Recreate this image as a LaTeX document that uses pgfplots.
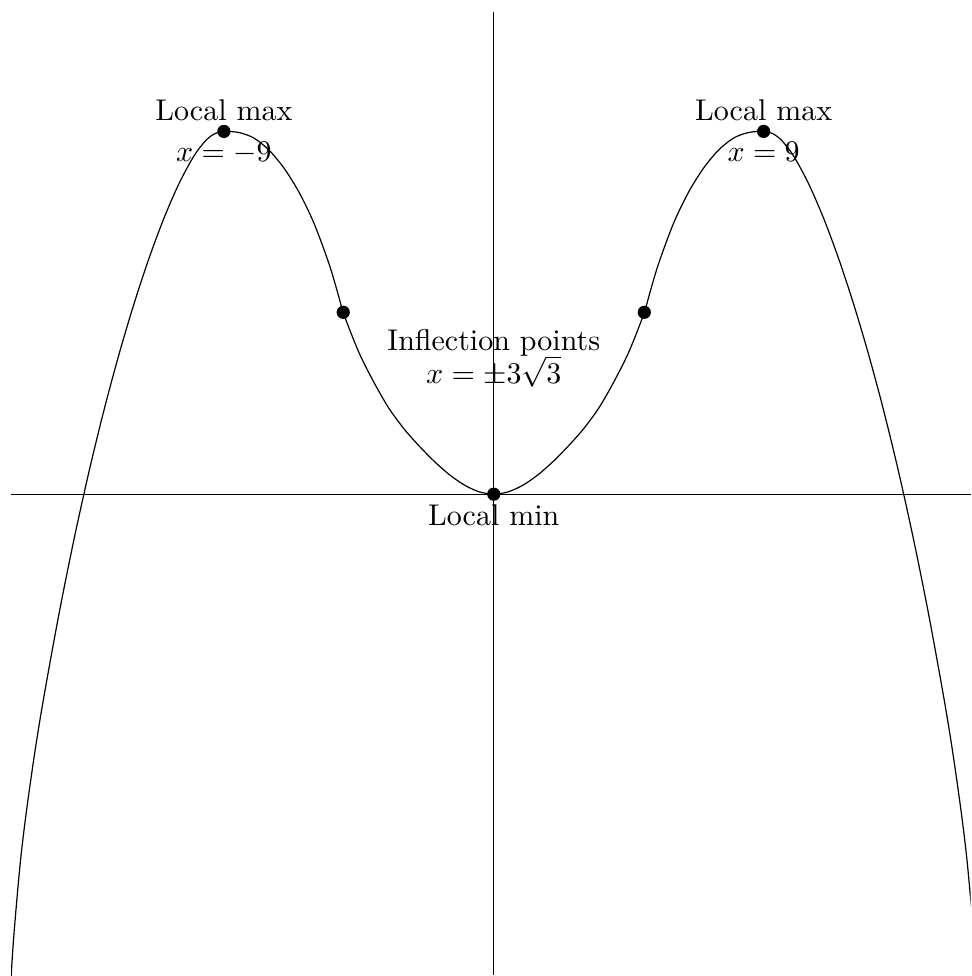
\documentclass[border=0pt]{standalone}
\usepackage{pgfplots}
\pgfplotsset{compat=1.18}
\begin{document}
\begin{tikzpicture}
\begin{axis}[
  scale only axis,
  width=320pt, height=321.3pt,
  xmin=-16.1, xmax=15.9,
  ymin=-48.15, ymax=48.25,
  axis lines=middle,
  axis line style={-, black, line width=0.4pt},
  ticks=none,
  clip=true,
]
\addplot[black, line width=0.4pt, smooth, tension=0.5] coordinates {
(-16.2,-54) (-16.1,-48.45) (-16.0,-43.95) (-15.8,-37.15) (-15.6,-32.05)
(-15.3,-25.7) (-15.0,-20.21) (-14.5,-11.98) (-14.0,-4.53) (-13.5,2.25)
(-13.0,8.40) (-12.5,13.98) (-12.0,19.03) (-11.5,23.58) (-11.0,27.61)
(-10.5,31.06) (-10.0,33.84) (-9.6,35.40) (-9.3,36.08) (-9.0,36.3)
(-8.5,36.19) (-8.0,35.64) (-7.5,34.44) (-7.0,32.64) (-6.5,30.24)
(-6.0,27.14) (-5.5,23.1) (-5.2,20.1) (-5.0,18.0) (-4.5,14.2)
(-4.0,11.21) (-3.5,8.61) (-3.0,6.56) (-2.5,4.86) (-2.0,3.33)
(-1.5,2.0) (-1.0,0.95) (-0.5,0.25) (0,0)
(0.5,0.25) (1.0,0.95) (1.5,2.0) (2.0,3.33) (2.5,4.86) (3.0,6.56)
(3.5,8.61) (4.0,11.21) (4.5,14.2) (5.0,18.0) (5.2,20.1) (5.5,23.1)
(6.0,27.14) (6.5,30.24) (7.0,32.64) (7.5,34.44) (8.0,35.64) (8.5,36.19)
(9.0,36.3) (9.3,36.08) (9.6,35.40) (10.0,33.84) (10.5,31.06) (11.0,27.61)
(11.5,23.58) (12.0,19.03) (12.5,13.98) (13.0,8.40) (13.5,2.25)
(14.0,-4.53) (14.5,-11.98) (15.0,-20.21) (15.3,-25.7) (15.6,-32.05)
(15.8,-37.15) (16.0,-43.95) (16.1,-48.45) (16.2,-54)
};
\addplot[only marks, mark=*, mark size=2pt, black] coordinates {
(-9,36.3) (9,36.3) (-5.02,18.2) (5.02,18.2) (0,0)
};
\node[above] at (axis cs:-9,36.3) {Local max};
\node[below] at (axis cs:-9,36.3) {$x = -9$};
\node[above] at (axis cs:9,36.3) {Local max};
\node[below] at (axis cs:9,36.3) {$x = 9$};
\node[below, align=center, yshift=-2pt] at (axis cs:0,18.2) {Inflection points\\[-1pt] $x = \pm 3\sqrt{3}$};
\node[below] at (axis cs:0,0) {Local min};
\end{axis}
\path (current axis.north west) ++(-3.67pt,4pt) coordinate (bbtl);
\path[use as bounding box] (bbtl) rectangle (current axis.south east);
\end{tikzpicture}
\end{document}
